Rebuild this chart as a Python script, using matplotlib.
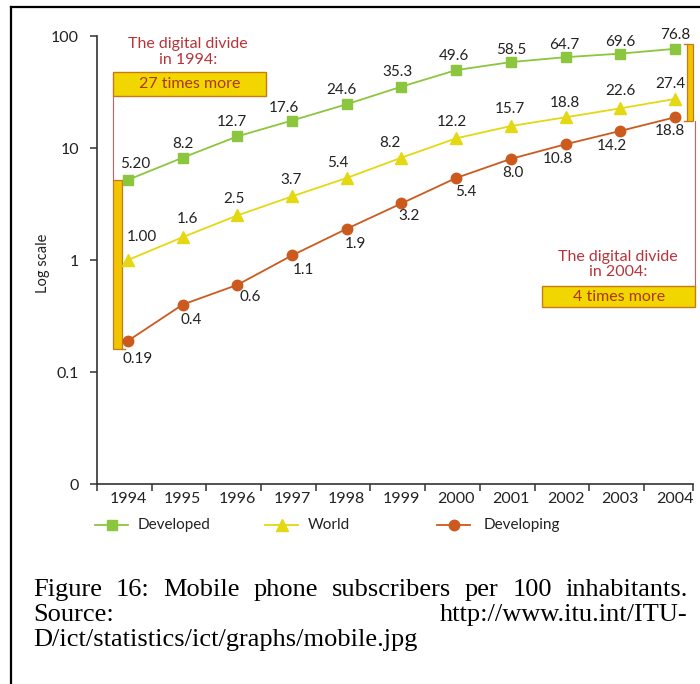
import matplotlib
matplotlib.use("Agg")
import matplotlib.pyplot as plt
from matplotlib.patches import Rectangle
from matplotlib.lines import Line2D
import numpy as np

years = ["1994", "1995", "1996", "1997", "1998", "1999", "2000", "2001", "2002", "2003", "2004"]
developed = [5.20, 8.2, 12.7, 17.6, 24.6, 35.3, 49.6, 58.5, 64.7, 69.6, 76.8]
world = [1.00, 1.6, 2.5, 3.7, 5.4, 8.2, 12.2, 15.7, 18.8, 22.6, 27.4]
developing = [0.19, 0.4, 0.6, 1.1, 1.9, 3.2, 5.4, 8.0, 10.8, 14.2, 18.8]
developed_labels = ["5.20", "8.2", "12.7", "17.6", "24.6", "35.3", "49.6", "58.5", "64.7", "69.6", "76.8"]
world_labels = ["1.00", "1.6", "2.5", "3.7", "5.4", "8.2", "12.2", "15.7", "18.8", "22.6", "27.4"]
developing_labels = ["0.19", "0.4", "0.6", "1.1", "1.9", "3.2", "5.4", "8.0", "10.8", "14.2", "18.8"]
series_names = ["Developed", "World", "Developing"]
ytick_vals = [0.01, 0.1, 1, 10, 100]
ytick_labels = ["0", "0.1", "1", "10", "100"]

# label placement (pixel offsets from each point) - styling only
dev_dx = [7, 0, -5, -8, -5, -4, -2, 0, -1, 0, 0]
dev_dy = [16, 14, 14, 13, 14, 15, 14, 12, 12, 12, 14]
wld_dx = [14, 5, -3, -1, -9, -12, -4, -1, -1, 0, -5]
wld_dy = [23, 18, 16, 16, 15, 15, 16, 17, 14, 17, 15]
dvg_dx = [10, 8, 13, 11, 9, 8, 10, 2, -8, -8, -5]
dvg_dy = [-18, -15, -12, -15, -15, -13, -14, -14, -15, -15, -14]

FONT = "Lato"
C_DEV = "#8cc63e"
C_WORLD = "#e4d812"
C_DEVING = "#cc5a1e"
C_RED = "#b8343a"
C_BOX = "#f2d600"
C_BOXEDGE = "#c87a1a"
C_TXT = "#222222"

W, H = 700, 684
fig = plt.figure(figsize=(7, 6.84), dpi=100)
fig.patch.set_facecolor("white")

def fx(px):
    return px / W

def fy(py):
    return 1 - py / H

ax = fig.add_axes([fx(97), fy(484), fx(693) - fx(97), fy(36) - fy(484)])
ax.set_yscale("log")
ax.set_ylim(0.01, 100)
ax.set_xlim(-0.567, 10.33)
ax.set_facecolor("white")

x = np.arange(len(years))

ax.plot(x, developed, color=C_DEV, lw=1.3, marker="s", ms=6.5, mfc=C_DEV, mec=C_DEV, zorder=4)
ax.plot(x, world, color=C_WORLD, lw=1.3, marker="^", ms=8.5, mfc=C_WORLD, mec=C_WORLD, zorder=4)
ax.plot(x, developing, color=C_DEVING, lw=1.3, marker="o", ms=7.5, mfc=C_DEVING, mec=C_DEVING, zorder=4)

def label_series(vals, labels, dxs, dys):
    for i, (v, t) in enumerate(zip(vals, labels)):
        ax.annotate(t, (x[i], v), xytext=(dxs[i], dys[i]), textcoords="offset pixels",
                    ha="center", va="center", fontsize=11, color=C_TXT,
                    family=FONT, zorder=5, annotation_clip=False)

label_series(developed, developed_labels, dev_dx, dev_dy)
label_series(world, world_labels, wld_dx, wld_dy)
label_series(developing, developing_labels, dvg_dx, dvg_dy)

# axes styling
for s in ["top", "right"]:
    ax.spines[s].set_visible(False)
for s in ["left", "bottom"]:
    ax.spines[s].set_color("#333333")
    ax.spines[s].set_linewidth(1.2)

ax.set_yticks(ytick_vals)
ax.set_yticklabels(ytick_labels, family=FONT, fontsize=11.5, color=C_TXT)
ax.yaxis.set_minor_locator(matplotlib.ticker.NullLocator())
ax.tick_params(axis="y", length=5, width=1.1, color="#333333", pad=8)

ax.set_xticks(x)
ax.set_xticklabels(years, family=FONT, fontsize=11.5, color=C_TXT)
ax.tick_params(axis="x", which="major", length=0, pad=6)
ax.set_xticks(list(np.arange(len(years)) - 0.567) + [10.33], minor=True)
ax.tick_params(axis="x", which="minor", length=5, width=1.1, color="#333333")

ax.set_ylabel("Log scale", family=FONT, fontsize=10.5, color=C_TXT)
ax.yaxis.set_label_coords(fx(42) - fx(97), (fy(263) - fy(484)) / (fy(36) - fy(484)))

# ---- annotations (1994) ----
ax.text(1.1, 72, "The digital divide\nin 1994:", ha="center", va="center",
        fontsize=11.5, color=C_RED, family=FONT, linespacing=1.1, clip_on=False)
ax.add_patch(Rectangle((-0.274, 29.1), 2.52 + 0.274, 47.7 - 29.1, facecolor=C_BOX,
                       edgecolor=C_BOXEDGE, lw=1.0, zorder=3, clip_on=False))
ax.text(1.12, np.sqrt(29.1 * 47.7), "27 times more", ha="center", va="center",
        fontsize=11.5, color="#a8381a", family=FONT, zorder=4)
ax.plot([-0.274, -0.274], [29.1, 5.2], color="#c86060", lw=0.8, zorder=2, clip_on=False)
ax.add_patch(Rectangle((-0.274, 0.16), 0.16, 5.2 - 0.16, facecolor="#f2c400",
                       edgecolor=C_BOXEDGE, lw=0.9, zorder=3, clip_on=False))
ax.plot([-0.114, -0.06], [5.2, 5.2], color=C_BOXEDGE, lw=1.0, zorder=3, clip_on=False)
ax.plot([-0.114, -0.06], [0.16, 0.16], color=C_BOXEDGE, lw=1.0, zorder=3, clip_on=False)

# ---- annotations (2004) ----
ax.add_patch(Rectangle((10.22, 17.5), 0.11, 85 - 17.5, facecolor="#f2c400",
                       edgecolor=C_BOXEDGE, lw=0.9, zorder=3, clip_on=False))
ax.plot([10.17, 10.22], [85, 85], color=C_BOXEDGE, lw=1.0, zorder=3, clip_on=False)
ax.plot([10.17, 10.22], [17.5, 17.5], color=C_BOXEDGE, lw=1.0, zorder=3, clip_on=False)
ax.plot([10.37, 10.37], [17.5, 0.586], color="#c86060", lw=0.8, zorder=2, clip_on=False)
ax.text(8.96, 0.92, "The digital divide\nin 2004:", ha="center", va="center",
        fontsize=11.5, color=C_RED, family=FONT, linespacing=1.1, clip_on=False)
ax.add_patch(Rectangle((7.57, 0.38), 10.37 - 7.57, 0.586 - 0.38, facecolor=C_BOX,
                       edgecolor=C_BOXEDGE, lw=1.0, zorder=3, clip_on=False))
ax.text(8.97, np.sqrt(0.38 * 0.586), "4 times more", ha="center", va="center",
        fontsize=11.5, color="#a8381a", family=FONT, zorder=4, clip_on=False)

# ---- legend ----
legend_items = [
    (series_names[0], C_DEV, "s", 6.5, 95, 128, 138),
    (series_names[1], C_WORLD, "^", 8.5, 265, 298, 308),
    (series_names[2], C_DEVING, "o", 7.5, 437, 470, 484),
]
ly = fy(525)
for name, col, mk, ms, x0, x1, tx in legend_items:
    fig.add_artist(Line2D([fx(x0), fx(x1)], [ly, ly], color=col, lw=1.3, transform=fig.transFigure))
    fig.add_artist(Line2D([fx((x0 + x1) / 2)], [ly], color=col, marker=mk, ms=ms,
                          mfc=col, mec=col, transform=fig.transFigure))
    fig.text(fx(tx), ly, name, ha="left", va="center", fontsize=11,
             color=C_TXT, family=FONT)

# ---- frame ----
fig.add_artist(Line2D([fx(11), fx(11)], [fy(7), 0], color="black", lw=1.6, transform=fig.transFigure))
fig.add_artist(Line2D([fx(11), 1], [fy(7), fy(7)], color="black", lw=1.6, transform=fig.transFigure))

# ---- caption ----
CAP_FONT = "Liberation Serif"
CAP_SIZE = 19
cap_line1 = "Figure 16: Mobile phone subscribers per 100 inhabitants."
cap_line2_left = "Source:"
cap_line2_right = "http://www.itu.int/ITU-"
cap_line3 = "D/ict/statistics/ict/graphs/mobile.jpg"
xl, xr = 33, 688
y1, y2, y3 = 596, 621, 646

renderer = fig.canvas.get_renderer()
words = cap_line1.split(" ")
tmp = [fig.text(0, 0, w, fontsize=CAP_SIZE, family=CAP_FONT) for w in words]
widths = [t.get_window_extent(renderer).width for t in tmp]
for t in tmp:
    t.remove()
gap = ((xr - xl) - sum(widths)) / (len(words) - 1)
cx = xl
for w, wd in zip(words, widths):
    fig.text(fx(cx), fy(y1), w, fontsize=CAP_SIZE, family=CAP_FONT, ha="left", va="baseline", color="black")
    cx += wd + gap
fig.text(fx(xl), fy(y2), cap_line2_left, fontsize=CAP_SIZE, family=CAP_FONT, ha="left", va="baseline")
fig.text(fx(xr), fy(y2), cap_line2_right, fontsize=CAP_SIZE, family=CAP_FONT, ha="right", va="baseline")
fig.text(fx(xl), fy(y3), cap_line3, fontsize=CAP_SIZE, family=CAP_FONT, ha="left", va="baseline")

fig.savefig("out.png", dpi=100, facecolor="white")
